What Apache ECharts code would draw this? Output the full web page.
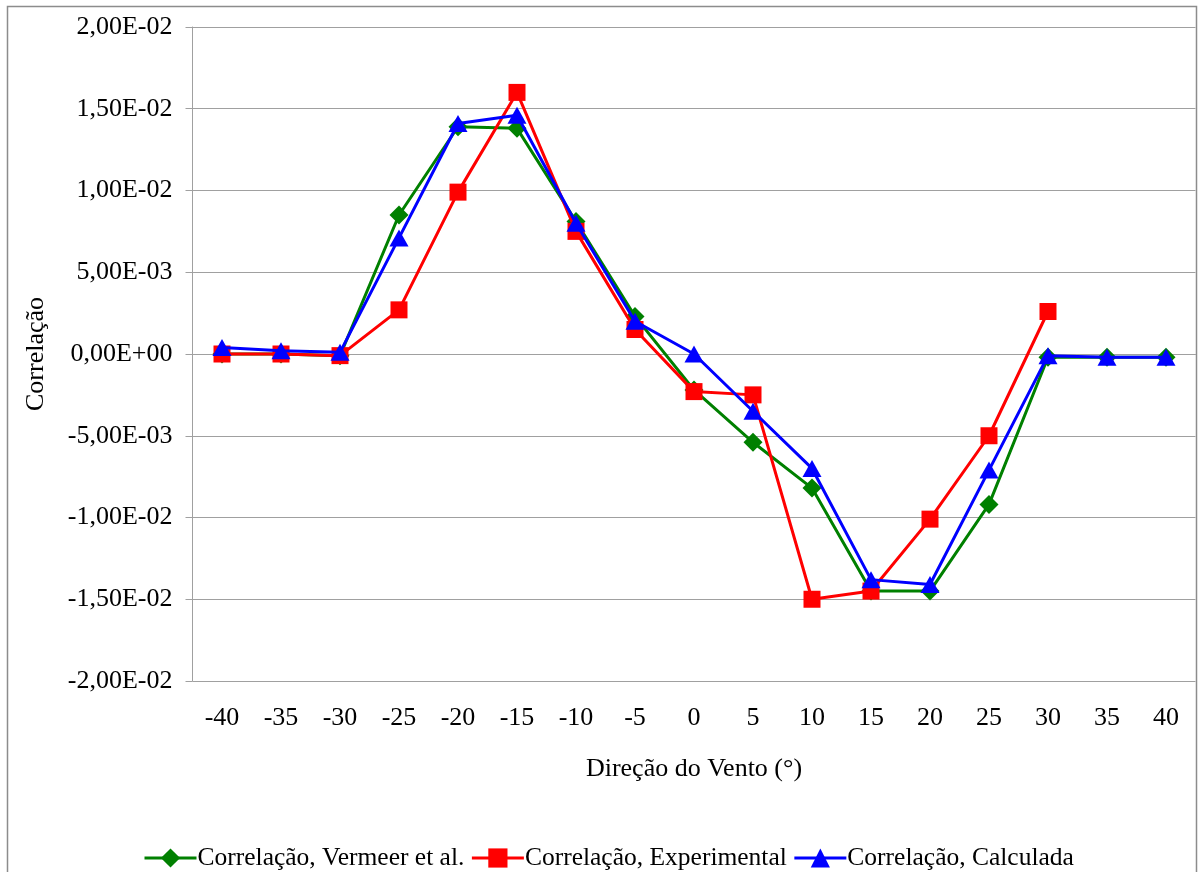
<!DOCTYPE html>
<html>
<head>
<meta charset="utf-8">
<script src="https://cdn.jsdelivr.net/npm/echarts@6/dist/echarts.min.js"></script>
<style>
  html, body { margin: 0; padding: 0; background: #fff; }
  #chart { width: 1198px; height: 872px; }
</style>
</head>
<body>
<div id="chart"></div>
<script>
// Wind direction (degrees)
const directions = ['-40','-35','-30','-25','-20','-15','-10','-5','0','5','10','15','20','25','30','35','40'];

// Correlation series
const vermeer = [0.0000, 0.0000, -0.0001, 0.0085, 0.0139, 0.0138, 0.0081, 0.0023, -0.0022, -0.0054, -0.0082, -0.0145, -0.0145, -0.0092, -0.0002, -0.0002, -0.0002];
const experimental = [0.0000, 0.0000, -0.0001, 0.0027, 0.0099, 0.0160, 0.0075, 0.0015, -0.0023, -0.0025, -0.0150, -0.0145, -0.0101, -0.0050, 0.0026, null, null];
const calculada = [0.0004, 0.0002, 0.0001, 0.0071, 0.0141, 0.0146, 0.0080, 0.0020, 0.0000, -0.0035, -0.0070, -0.0138, -0.0141, -0.0071, -0.0001, -0.0002, -0.0002];

// Value-axis tick labels, bottom to top
const yTickLabels = ['-2,00E-02','-1,50E-02','-1,00E-02','-5,00E-03','0,00E+00','5,00E-03','1,00E-02','1,50E-02','2,00E-02'];
const yMin = -0.02, yMax = 0.02, yStep = 0.005;

const seriesNames = ['Correlação, Vermeer et al.', 'Correlação, Experimental', 'Correlação, Calculada'];

const FONT = 'Liberation Serif';
const FS = 26;
const chart = echarts.init(document.getElementById('chart'));

chart.setOption({
  backgroundColor: '#fff',
  animation: false,
  textStyle: { fontFamily: FONT, color: '#000' },
  graphic: [{
    type: 'rect',
    shape: { x: 7.5, y: 6.5, width: 1189, height: 900 },
    style: { fill: 'none', stroke: '#8c8c8c', lineWidth: 1.5 },
    silent: true,
    z: -1
  }],
  grid: { left: 192.5, right: 2.5, top: 27, bottom: 191, containLabel: false },
  legend: {
    left: 138,
    top: 840,
    itemWidth: 52,
    itemHeight: 24,
    itemGap: 6,
    lineStyle: { width: 3 },
    textStyle: { fontFamily: FONT, fontSize: 25.5, color: '#000', padding: [0, 0, 0, -4] },
    data: seriesNames
  },
  xAxis: {
    type: 'category',
    data: directions,
    boundaryGap: true,
    name: 'Direção do Vento (°)',
    nameLocation: 'middle',
    nameGap: 75,
    nameTextStyle: { fontFamily: FONT, fontSize: FS, color: '#000' },
    axisLine: { lineStyle: { color: '#a0a0a0', width: 1 } },
    axisTick: { show: false },
    axisLabel: { fontFamily: FONT, fontSize: FS, color: '#000', margin: 24, interval: 0 },
    splitLine: { show: false }
  },
  yAxis: {
    type: 'value',
    min: yMin,
    max: yMax,
    interval: yStep,
    name: 'Correlação',
    nameLocation: 'middle',
    nameGap: 143,
    nameRotate: 90,
    nameTextStyle: { fontFamily: FONT, fontSize: FS, color: '#000' },
    axisLine: { show: true, lineStyle: { color: '#a0a0a0', width: 1 } },
    axisTick: { show: true, length: 7, lineStyle: { color: '#a0a0a0' } },
    axisLabel: {
      fontFamily: FONT, fontSize: FS, color: '#000', margin: 20,
      formatter: function (v) {
        return yTickLabels[Math.round((v - yMin) / yStep)];
      }
    },
    splitLine: { show: true, lineStyle: { color: '#a0a0a0', width: 1 } }
  },
  series: [
    {
      name: seriesNames[0],
      type: 'line',
      data: vermeer,
      symbol: 'diamond',
      symbolSize: 19,
      lineStyle: { color: '#008000', width: 3 },
      itemStyle: { color: '#008000' },
      z: 2
    },
    {
      name: seriesNames[1],
      type: 'line',
      data: experimental,
      symbol: 'rect',
      symbolSize: 17,
      lineStyle: { color: '#ff0000', width: 3 },
      itemStyle: { color: '#ff0000' },
      z: 3
    },
    {
      name: seriesNames[2],
      type: 'line',
      data: calculada,
      symbol: 'triangle',
      symbolSize: [19, 17],
      lineStyle: { color: '#0000ff', width: 3 },
      itemStyle: { color: '#0000ff' },
      z: 4
    }
  ]
});
</script>
</body>
</html>
